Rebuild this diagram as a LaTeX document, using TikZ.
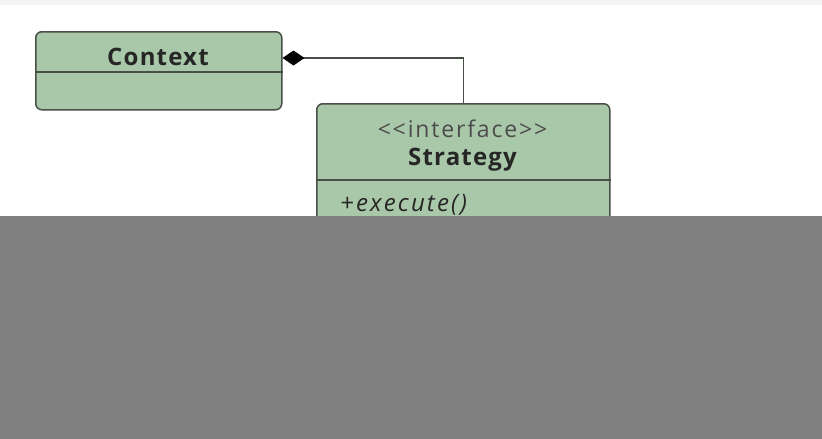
\documentclass[tikz,border=0pt]{standalone}
\usepackage{fontspec}
\setmainfont{Open Sans}[Ligatures=NoCommon]
\usetikzlibrary{arrows.meta}
\definecolor{boxfill}{HTML}{A9C7A9}
\definecolor{boxline}{HTML}{474F47}
\definecolor{cover}{HTML}{808080}
\definecolor{topband}{HTML}{F4F4F4}
\tikzset{
  classbox/.style={draw=boxline, line width=1.5pt, fill=boxfill, rounded corners=6pt, inner sep=0pt, anchor=north west},
  divider/.style={draw=boxline, line width=1.5pt},
  link/.style={draw=boxline, line width=1.3pt},
  lbl/.style={inner sep=0pt, text=black!85}
}
\begin{document}
\begin{tikzpicture}[x=1pt,y=-1pt]
\useasboundingbox (0,0) rectangle (822,439);
\fill[white] (0,0) rectangle (822,439);
\fill[topband] (0,0) rectangle (822,5);
% Context
\node[classbox, minimum width=246pt, minimum height=78pt] (ctx) at (35,31) {};
\draw[divider] (ctx.west |- 0,72) -- (ctx.east |- 0,72);
\node[lbl, font=\fontsize{24}{28}\selectfont\bfseries\addfontfeatures{LetterSpace=5}] (ctxname) at (158,57) {Context};
% Strategy
\node[classbox, minimum width=293pt, minimum height=170pt] (str) at (316,103) {};
\draw[divider] (str.west |- 0,180) -- (str.east |- 0,180);
\node[lbl, text=black!70, font=\fontsize{23}{28}\selectfont\addfontfeatures{LetterSpace=8}] (stereo) at (462.5,129) {<{}<interface>{}>};
\node[lbl, font=\fontsize{24}{28}\selectfont\bfseries\addfontfeatures{LetterSpace=5}] (strname) at (462.5,160) {Strategy};
\node[lbl, font=\fontsize{24}{28}\selectfont\itshape\addfontfeatures{LetterSpace=9}, anchor=west] (op) at (340,205) {+execute()};
% composition
\coordinate (src) at ([yshift=-27pt]ctx.north east);
\draw[link, {Diamond[length=22pt,width=15pt,fill=black,color=black]}-] (src) -| (str.north);
% cover
\fill[cover] (0,216) rectangle (822,439);
\end{tikzpicture}
\end{document}
